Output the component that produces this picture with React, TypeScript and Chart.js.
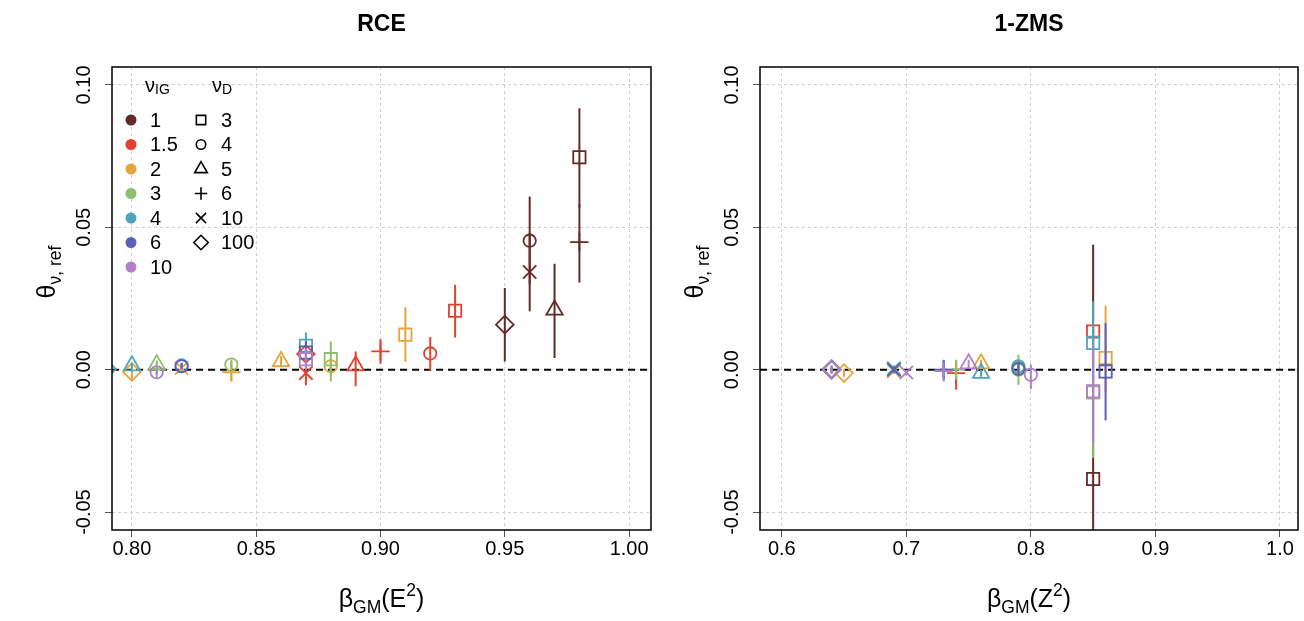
import React, { useEffect, useRef } from 'react';
import { Chart, registerables } from 'chart.js';
import { drawPoint } from 'chart.js/helpers';

Chart.register(...registerables);

const FONT = "'Liberation Sans', Arial, Helvetica, sans-serif";

// ---------- legend / category data ----------
const igLabels = ['1', '1.5', '2', '3', '4', '6', '10'];
const dLabels = ['3', '4', '5', '6', '10', '100'];
const igColors = ['#642A26', '#E4402E', '#E8A33D', '#8CC06C', '#4EA5B9', '#5B5FB6', '#B07FC7'];
const dStyles = ['rect', 'circle', 'triangle', 'cross', 'crossRot', 'rectRot'];
const dRadius = [8.7, 6.2, 9.4, 9.2, 9.4, 8.8];
const dLegendRadius = [6.6, 4.7, 7.3, 6.2, 7.2, 7.2];

// ---------- axes ----------
const rceXTicks = [0.8, 0.85, 0.9, 0.95, 1.0];
const zmsXTicks = [0.6, 0.7, 0.8, 0.9, 1.0];
const yTicks = [-0.05, 0, 0.05, 0.1];

// ---------- RCE panel ----------
const rceIG = [0, 0, 0, 0, 0, 0, 1, 1, 1, 1, 1, 1, 2, 2, 2, 2, 2, 2, 3, 3, 3, 3, 4, 4, 4, 4, 5, 5, 6, 6];
const rceD = [0, 1, 2, 3, 4, 5, 0, 1, 2, 3, 4, 5, 0, 1, 2, 3, 4, 5, 0, 1, 2, 3, 0, 1, 2, 5, 0, 1, 0, 1];
const rceBeta = [0.98, 0.96, 0.97, 0.98, 0.96, 0.95, 0.93, 0.92, 0.89, 0.90, 0.87, 0.87, 0.91, 0.88, 0.86, 0.84, 0.82, 0.80, 0.88, 0.84, 0.81, 0.81, 0.87, 0.82, 0.80, 0.79, 0.87, 0.82, 0.87, 0.81];
const rceTheta = [0.0746, 0.0453, 0.0210, 0.0448, 0.0343, 0.0158, 0.0207, 0.0057, 0.0014, 0.0064, -0.0012, 0.0055, 0.0123, 0.0012, 0.0029, -0.0009, 0.0006, -0.0008, 0.0037, 0.0018, 0.0018, 0.0000, 0.0084, 0.0015, 0.0014, 0.0002, 0.0060, 0.0012, 0.0037, -0.0009];
const rceLo = [0.0570, 0.0300, 0.0041, 0.0306, 0.0205, 0.0029, 0.0113, -0.0002, -0.0058, 0.0021, -0.0055, 0.0020, 0.0027, -0.0020, 0.0010, -0.0041, -0.0012, -0.0033, -0.0041, 0.0004, 0.0005, -0.0015, 0.0040, 0.0005, 0.0000, -0.0005, 0.0020, 0.0002, 0.0000, -0.0020];
const rceHi = [0.0918, 0.0608, 0.0372, 0.0580, 0.0480, 0.0287, 0.0298, 0.0115, 0.0064, 0.0107, 0.0030, 0.0090, 0.0219, 0.0040, 0.0048, 0.0035, 0.0022, 0.0012, 0.0099, 0.0032, 0.0030, 0.0015, 0.0131, 0.0025, 0.0025, 0.0009, 0.0100, 0.0022, 0.0075, 0.0003];

// ---------- 1-ZMS panel ----------
const zmsIG = [0, 1, 1, 2, 2, 2, 2, 2, 3, 3, 3, 3, 3, 4, 4, 4, 4, 4, 4, 5, 5, 5, 5, 5, 6, 6, 6, 6, 6, 6];
const zmsD = [0, 0, 3, 0, 1, 2, 4, 5, 0, 1, 3, 4, 5, 0, 1, 2, 3, 4, 5, 0, 1, 3, 4, 5, 0, 1, 2, 3, 4, 5];
const zmsBeta = [0.85, 0.85, 0.74, 0.86, 0.79, 0.76, 0.69, 0.65, 0.85, 0.79, 0.74, 0.69, 0.64, 0.85, 0.79, 0.76, 0.73, 0.69, 0.64, 0.86, 0.79, 0.73, 0.69, 0.64, 0.85, 0.80, 0.75, 0.73, 0.70, 0.64];
const zmsTheta = [-0.0384, 0.0134, -0.0012, 0.0041, 0.0007, 0.0021, -0.0005, -0.0012, -0.0080, 0.0000, 0.0000, 0.0000, 0.0003, 0.0094, 0.0012, -0.0012, -0.0003, 0.0005, 0.0000, -0.0006, 0.0003, 0.0000, 0.0000, 0.0000, -0.0076, -0.0018, 0.0021, -0.0005, -0.0010, 0.0000];
const zmsLo = [-0.0750, 0.0110, -0.0070, -0.0080, -0.0010, 0.0005, -0.0015, -0.0025, -0.0310, -0.0053, -0.0035, -0.0010, -0.0010, -0.0040, -0.0010, -0.0025, -0.0041, -0.0005, -0.0010, -0.0178, -0.0020, -0.0030, -0.0010, -0.0010, -0.0263, -0.0068, 0.0005, -0.0020, -0.0020, -0.0015];
const zmsHi = [0.0439, 0.0160, 0.0029, 0.0225, 0.0025, 0.0035, 0.0005, 0.0002, 0.0120, 0.0053, 0.0035, 0.0010, 0.0015, 0.0240, 0.0035, 0.0000, 0.0035, 0.0015, 0.0010, 0.0164, 0.0025, 0.0030, 0.0010, 0.0010, 0.0080, 0.0018, 0.0035, 0.0010, 0.0000, 0.0015];

type Seg = { t: string; size: number; dy: number; bold?: boolean };

function drawRich(ctx: CanvasRenderingContext2D, segs: Seg[], cx: number, cy: number, rotate: boolean, align: 'center' | 'left' = 'center') {
  ctx.save();
  ctx.translate(cx, cy);
  if (rotate) ctx.rotate(-Math.PI / 2);
  ctx.textAlign = 'left';
  ctx.textBaseline = 'alphabetic';
  ctx.fillStyle = '#000';
  const widths = segs.map((s) => {
    ctx.font = `${s.bold ? 'bold ' : ''}${s.size}px ${FONT}`;
    return ctx.measureText(s.t).width;
  });
  const total = widths.reduce((a, b) => a + b, 0);
  let x = align === 'center' ? -total / 2 : 0;
  segs.forEach((s, i) => {
    ctx.font = `${s.bold ? 'bold ' : ''}${s.size}px ${FONT}`;
    ctx.fillText(s.t, x, s.dy);
    x += widths[i];
  });
  ctx.restore();
}

function buildDatasets(ig: number[], d: number[], beta: number[], theta: number[], lo: number[], hi: number[]) {
  return igLabels.map((lab, c) => {
    const idx = ig.map((g, i) => (g === c ? i : -1)).filter((i) => i >= 0);
    return {
      label: 'ν_IG = ' + lab,
      data: idx.map((i) => ({ x: beta[i], y: theta[i] })),
      pointStyle: idx.map((i) => dStyles[d[i]]),
      pointRadius: idx.map((i) => dRadius[d[i]]),
      pointBorderColor: igColors[c],
      borderColor: igColors[c],
      pointBackgroundColor: 'rgba(0,0,0,0)',
      backgroundColor: 'rgba(0,0,0,0)',
      pointBorderWidth: 1.8,
      showLine: false,
      errLo: idx.map((i) => lo[i]),
      errHi: idx.map((i) => hi[i]),
      order: igLabels.length - 1 - c,
    };
  });
}

type PanelCfg = {
  title: string;
  xLetter: string;
  xTicks: number[];
  xMin: number;
  xMax: number;
  xDigits: number;
  yAxisWidth: number;
  padRight: number;
  legend: boolean;
  datasets: any[];
};

function makeDecor(p: PanelCfg) {
  return {
    id: 'decor',
    beforeDatasetsDraw(chart: any) {
      const { ctx, chartArea: a, scales } = chart;
      const y0 = scales.y.getPixelForValue(0);
      ctx.save();
      ctx.beginPath();
      ctx.rect(a.left, a.top, a.right - a.left, a.bottom - a.top);
      ctx.clip();
      ctx.setLineDash([7, 5]);
      ctx.strokeStyle = '#000';
      ctx.lineWidth = 2;
      ctx.beginPath();
      ctx.moveTo(a.left, y0);
      ctx.lineTo(a.right, y0);
      ctx.stroke();
      ctx.restore();
    },
    beforeDatasetDraw(chart: any, args: any) {
      const ds = chart.data.datasets[args.index];
      const { ctx, chartArea: a, scales } = chart;
      ctx.save();
      ctx.beginPath();
      ctx.rect(a.left, a.top, a.right - a.left, a.bottom - a.top);
      ctx.clip();
      ctx.strokeStyle = ds.borderColor;
      ctx.lineWidth = 2;
      ctx.setLineDash([]);
      ds.data.forEach((pt: any, i: number) => {
        const x = scales.x.getPixelForValue(pt.x);
        const y1 = scales.y.getPixelForValue(ds.errLo[i]);
        const y2 = scales.y.getPixelForValue(ds.errHi[i]);
        ctx.beginPath();
        ctx.moveTo(x, y1);
        ctx.lineTo(x, y2);
        ctx.stroke();
      });
      ctx.restore();
    },
    afterDraw(chart: any) {
      const { ctx, chartArea: a } = chart;
      ctx.save();
      ctx.strokeStyle = '#000';
      ctx.lineWidth = 1.5;
      ctx.setLineDash([]);
      ctx.strokeRect(a.left, a.top, a.right - a.left, a.bottom - a.top);
      ctx.restore();
      const cx = (a.left + a.right) / 2;
      drawRich(ctx, [{ t: p.title, size: 23, dy: 0, bold: true }], cx, 31, false);
      drawRich(
        ctx,
        [
          { t: 'β', size: 25, dy: 0 },
          { t: 'GM', size: 17.5, dy: 6 },
          { t: '(', size: 25, dy: 0 },
          { t: p.xLetter, size: 25, dy: 0 },
          { t: '2', size: 17.5, dy: -11 },
          { t: ')', size: 25, dy: 0 },
        ],
        cx,
        607,
        false
      );
      drawRich(
        ctx,
        [
          { t: 'θ', size: 25, dy: 0 },
          { t: 'ν, ref', size: 17.5, dy: 6 },
        ],
        a.left - 57,
        272,
        true
      );
      if (p.legend) {
        const rowY = (i: number) => 120 + i * 24.5;
        drawRich(ctx, [{ t: 'ν', size: 20, dy: 0 }, { t: 'IG', size: 14, dy: 2 }], 145, 92, false, 'left');
        drawRich(ctx, [{ t: 'ν', size: 20, dy: 0 }, { t: 'D', size: 14, dy: 2 }], 212, 92, false, 'left');
        ctx.save();
        ctx.font = `20px ${FONT}`;
        ctx.textAlign = 'left';
        ctx.textBaseline = 'middle';
        igLabels.forEach((lab, i) => {
          const y = rowY(i);
          ctx.fillStyle = igColors[i];
          ctx.beginPath();
          ctx.arc(131, y, 5.5, 0, Math.PI * 2);
          ctx.fill();
          ctx.fillStyle = '#000';
          ctx.fillText(lab, 150, y + 1);
        });
        dLabels.forEach((lab, i) => {
          const y = rowY(i);
          ctx.strokeStyle = '#000';
          ctx.fillStyle = 'rgba(0,0,0,0)';
          ctx.lineWidth = 1.6;
          drawPoint(ctx, { pointStyle: dStyles[i] as any, radius: dLegendRadius[i], rotation: 0, borderWidth: 1.6 } as any, 201, y);
          ctx.fillStyle = '#000';
          ctx.fillText(lab, 221, y + 1);
        });
        ctx.restore();
      }
    },
  };
}

function buildConfig(p: PanelCfg): any {
  const tickFont = { family: FONT, size: 20 };
  return {
    type: 'scatter',
    data: { datasets: p.datasets },
    options: {
      responsive: false,
      animation: false,
      events: [],
      layout: { autoPadding: false, padding: { top: 67, right: p.padRight, bottom: 0, left: 0 } },
      plugins: { legend: { display: false }, tooltip: { enabled: false }, title: { display: false } },
      scales: {
        x: {
          type: 'linear',
          min: p.xMin,
          max: p.xMax,
          afterBuildTicks: (scale: any) => {
            scale.ticks = p.xTicks.map((v) => ({ value: v }));
          },
          afterFit: (scale: any) => {
            scale.height = 91;
            scale.paddingLeft = 0;
            scale.paddingRight = 0;
          },
          ticks: {
            autoSkip: false,
            maxRotation: 0,
            minRotation: 0,
            padding: 0,
            color: '#000',
            font: tickFont,
            callback: (v: number) => Number(v).toFixed(p.xDigits),
          },
          grid: {
            color: '#D0D0D0',
            lineWidth: 1,
            tickLength: 7,
            tickColor: '#555',
            tickWidth: 1,
            tickBorderDash: [],
          },
          border: { display: false, dash: [3, 3] },
        },
        y: {
          type: 'linear',
          min: -0.0563,
          max: 0.1063,
          afterBuildTicks: (scale: any) => {
            scale.ticks = yTicks.map((v) => ({ value: v }));
          },
          afterFit: (scale: any) => {
            scale.width = p.yAxisWidth;
            scale.paddingTop = 0;
            scale.paddingBottom = 0;
          },
          ticks: {
            autoSkip: false,
            minRotation: 90,
            maxRotation: 90,
            crossAlign: 'center',
            padding: -2,
            color: '#000',
            font: tickFont,
            callback: (v: number) => Number(v).toFixed(2),
          },
          grid: {
            color: '#D0D0D0',
            lineWidth: 1,
            tickLength: 7,
            tickColor: '#555',
            tickWidth: 1,
            tickBorderDash: [],
          },
          border: { display: false, dash: [3, 3] },
        },
      },
    },
    plugins: [makeDecor(p)],
  };
}

function Panel({ left, cfg }: { left: number; cfg: PanelCfg }) {
  const ref = useRef<HTMLCanvasElement>(null);
  useEffect(() => {
    if (!ref.current) return;
    const chart = new Chart(ref.current, buildConfig(cfg));
    return () => chart.destroy();
  }, []);
  return (
    <div style={{ position: 'absolute', left, top: 0, width: 652, height: 621 }}>
      <canvas ref={ref} width={652} height={621} style={{ display: 'block', width: 652, height: 621 }} />
    </div>
  );
}

const rceCfg: PanelCfg = {
  title: 'RCE',
  xLetter: 'E',
  xTicks: rceXTicks,
  xMin: 0.792,
  xMax: 1.0088,
  xDigits: 2,
  yAxisWidth: 112,
  padRight: 1,
  legend: true,
  datasets: buildDatasets(rceIG, rceD, rceBeta, rceTheta, rceLo, rceHi),
};

const zmsCfg: PanelCfg = {
  title: '1-ZMS',
  xLetter: 'Z',
  xTicks: zmsXTicks,
  xMin: 0.5825,
  xMax: 1.0145,
  xDigits: 1,
  yAxisWidth: 108,
  padRight: 6,
  legend: false,
  datasets: buildDatasets(zmsIG, zmsD, zmsBeta, zmsTheta, zmsLo, zmsHi),
};

export default function App() {
  return (
    <div style={{ position: 'fixed', left: 0, top: 0, width: 1304, height: 621, background: '#fff' }}>
      <Panel left={0} cfg={rceCfg} />
      <Panel left={652} cfg={zmsCfg} />
    </div>
  );
}
